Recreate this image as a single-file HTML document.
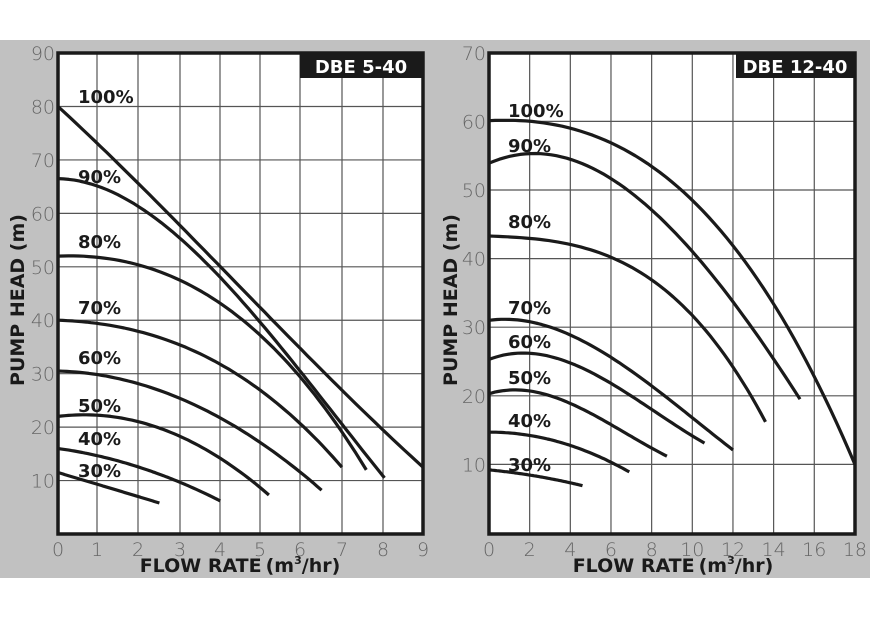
<!DOCTYPE html>
<html><head><meta charset="utf-8"><style>
html,body{margin:0;padding:0;background:#fff;}
svg{display:block;}
.t{font-family:"DejaVu Sans","Liberation Sans",sans-serif;font-size:19px;fill:#666;font-weight:300;}
.b{font-family:"DejaVu Sans","Liberation Sans",sans-serif;font-weight:bold;fill:#1a1a1a;}
</style></head><body>
<svg id="s" width="870" height="619" xmlns="http://www.w3.org/2000/svg">
<rect x="0" y="40" width="870" height="538" fill="#c1c1c1"/>
<rect x="58" y="53" width="365" height="481" fill="#fff"/>
<rect x="489" y="53" width="366" height="481" fill="#fff"/>
<g id="grid" stroke="#555" stroke-width="1.2"></g>
<rect x="300" y="53" width="123" height="25" fill="#1a1a1a"/>
<text x="361" y="73" text-anchor="middle" class="b" style="fill:#fff;font-size:18px">DBE 5-40</text>
<rect x="736" y="53" width="119" height="25" fill="#1a1a1a"/>
<text x="795" y="73" text-anchor="middle" class="b" style="fill:#fff;font-size:18px">DBE 12-40</text>
<g id="curves" fill="none" stroke="#1a1a1a" stroke-width="3.2" stroke-linecap="butt" stroke-linejoin="round"></g>
<rect x="58" y="53" width="365" height="481" fill="none" stroke="#1a1a1a" stroke-width="3.5"/>
<rect x="489" y="53" width="366" height="481" fill="none" stroke="#1a1a1a" stroke-width="3.5"/>
<g id="labels"></g>
<text transform="translate(24,300) rotate(-90)" text-anchor="middle" class="b" style="font-size:19px">PUMP HEAD (m)</text>
<text transform="translate(457,300) rotate(-90)" text-anchor="middle" class="b" style="font-size:19px">PUMP HEAD (m)</text>
<text x="240" y="572" text-anchor="middle" class="b" style="font-size:19px">FLOW RATE<tspan dx="4">(m</tspan><tspan dy="-8" style="font-size:11px">3</tspan><tspan dy="8">/hr)</tspan></text>
<text x="673" y="572" text-anchor="middle" class="b" style="font-size:19px">FLOW RATE<tspan dx="4">(m</tspan><tspan dy="-8" style="font-size:11px">3</tspan><tspan dy="8">/hr)</tspan></text>
</svg>
<script>
var NS="http://www.w3.org/2000/svg";
function el(p,t,a,txt){var e=document.createElementNS(NS,t);for(var k in a)e.setAttribute(k,a[k]);if(txt!==undefined)e.textContent=txt;document.getElementById(p).appendChild(e);return e;}
var lx=[58,97,138,180,220,260,300,342,383,423];
lx.forEach(function(x,i){if(i>0&&i<9)el("grid","line",{x1:x,y1:53,x2:x,y2:534});
 el("labels","text",{x:x,y:556,"text-anchor":"middle","class":"t"},""+i);});
for(var v=0;v<=90;v+=10){var y=534-v*5.344;if(v>0&&v<90)el("grid","line",{x1:58,y1:y,x2:423,y2:y});
 if(v>0)el("labels","text",{x:55,y:y+7,"text-anchor":"end","class":"t"},""+v);}
for(var q=0;q<=18;q+=2){var x=489+q*20.33;if(q>0&&q<18)el("grid","line",{x1:x,y1:53,x2:x,y2:534});
 el("labels","text",{x:x,y:556,"text-anchor":"middle","class":"t"},""+q);}
for(var v=0;v<=70;v+=10){var y=533-v*6.86;if(v>0&&v<70)el("grid","line",{x1:489,y1:y,x2:855,y2:y});
 if(v>0)el("labels","text",{x:486,y:y+7,"text-anchor":"end","class":"t"},""+v);}
function lag(P,q){var s=0;for(var i=0;i<P.length;i++){var t=P[i][1];for(var j=0;j<P.length;j++)if(j!=i)t*=(q-P[j][0])/(P[i][0]-P[j][0]);s+=t;}return s;}
function curve(P,side){var q0=P[0][0],q1=P[P.length-1][0],pts=[];
 for(var k=0;k<=60;k++){var q=q0+(q1-q0)*k/60,H=lag(P,q),x,y;
  if(side==0){x=58+q*40.56;y=534-H*5.344;}else{x=489+q*20.33;y=533-H*6.86;}
  pts.push(x.toFixed(1)+","+y.toFixed(1));}
 el("curves","polyline",{points:pts.join(" ")});}
var L0=[
[[0,80],[3,57.8],[6.95,27.3],[9,12.5]],
[[0,66.5],[2,61.2],[6,30.2],[8.05,10.5]],
[[0,52],[1.5,51.2],[5.97,29.4],[7.6,12]],
[[0,40],[3,35.4],[4.97,27],[7,12.5]],
[[0,30.5],[3,25.4],[6.5,8.2]],
[[0,22],[3,18.3],[5.2,7.3]],
[[0,16],[3,9.7],[4,6.2]],
[[0,11.5],[1.28,8.6],[2.5,5.8]]];
var R=[
[[0,60.1],[10,48.5],[14.1,32.9],[18,10]],
[[0,53.9],[8,47.1],[11.9,34.1],[15.3,19.5]],
[[0,43.3],[8,36.9],[12,24.2],[13.6,16.2]],
[[0,31],[2,30.8],[5.95,25.7],[12,12.1]],
[[0,25.3],[2,26.2],[5.95,21.9],[10.6,13.1]],
[[0,20.3],[2,20.7],[4.5,18.2],[8.75,11.2]],
[[0,14.7],[3.64,13.1],[6.9,8.9]],
[[0,9.2],[2.5,8.2],[4.6,6.9]]];
L0.forEach(function(p){curve(p,0);});R.forEach(function(p){curve(p,1);});
var L=[[78,103,"100%"],[78,183,"90%"],[78,248,"80%"],[78,314,"70%"],[78,364,"60%"],[78,412,"50%"],[78,445,"40%"],[78,477,"30%"],
[508,117,"100%"],[508,152,"90%"],[508,228,"80%"],[508,314,"70%"],[508,348,"60%"],[508,384,"50%"],[508,427,"40%"],[508,471,"30%"]];
L.forEach(function(l){el("labels","text",{x:l[0],y:l[1],"class":"b","style":"font-size:18px"},l[2]);});
</script>
</body></html>
